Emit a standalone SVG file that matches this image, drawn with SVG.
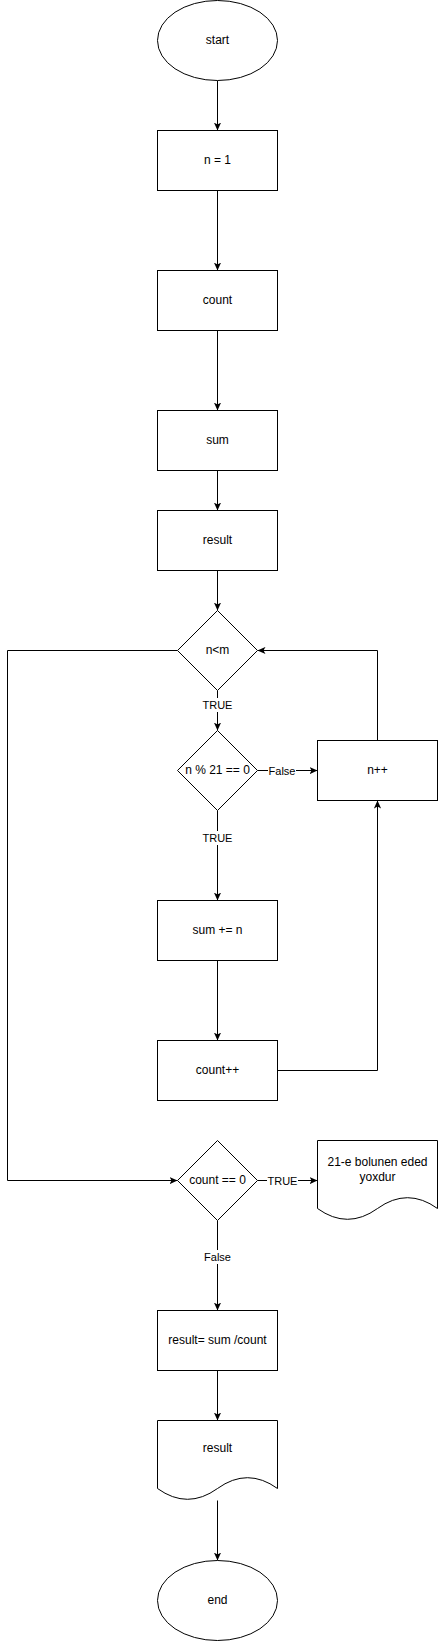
<svg xmlns="http://www.w3.org/2000/svg" width="438" height="1641" viewBox="0 0 438 1641">
<style>
.s{fill:#fff;stroke:#000;stroke-width:1}
.t{font-family:"Liberation Sans",Arial,Helvetica,sans-serif;font-size:12px;fill:#000;text-anchor:middle}
.l{font-family:"Liberation Sans",Arial,Helvetica,sans-serif;font-size:11px;fill:#000;text-anchor:middle}
.c{fill:none;stroke:#000;stroke-width:1;marker-end:url(#a)}
.bg{fill:#fff}
</style>
<defs>
<marker id="a" viewBox="0 0 10 10" refX="10" refY="5" markerWidth="8" markerHeight="8" markerUnits="userSpaceOnUse" orient="auto">
<path d="M0,0.5 L10,5 L0,9.5 L2.5,5 z" fill="#000"/>
</marker>
</defs>
<rect width="438" height="1641" fill="#fff"/>
<g id="connectors">
<path class="c" d="M217.5,80.5 V130.5"/>
<path class="c" d="M217.5,190.5 V270.5"/>
<path class="c" d="M217.5,330.5 V410.5"/>
<path class="c" d="M217.5,470.5 V510.5"/>
<path class="c" d="M217.5,570.5 V610.5"/>
<path class="c" d="M217.5,690.5 V730.5"/>
<path class="c" d="M217.5,810.5 V900.5"/>
<path class="c" d="M217.5,960.5 V1040.5"/>
<path class="c" d="M277.5,1070.5 H377.5 V800.5"/>
<path class="c" d="M377.5,740.5 V650.5 H257.5"/>
<path class="c" d="M257.5,770.5 H317.5"/>
<path class="c" d="M177.5,650.5 H7.5 V1180.5 H177.5"/>
<path class="c" d="M257.5,1180.5 H317.5"/>
<path class="c" d="M217.5,1220.5 V1310.5"/>
<path class="c" d="M217.5,1370.5 V1420.5"/>
<path class="c" d="M217.5,1500.5 V1560.5"/>
<rect class="bg" x="202" y="698" width="31" height="14"/>
<text class="l" x="217.5" y="709">TRUE</text>
<rect class="bg" x="202" y="831" width="31" height="14"/>
<text class="l" x="217.5" y="842">TRUE</text>
<rect class="bg" x="268" y="764" width="28" height="14"/>
<text class="l" x="282" y="774.5">False</text>
<rect class="bg" x="267" y="1174" width="31" height="14"/>
<text class="l" x="282.5" y="1184.5">TRUE</text>
<rect class="bg" x="203" y="1250" width="29" height="14"/>
<text class="l" x="217.5" y="1261">False</text>
</g>
<g id="start"><ellipse class="s" cx="217.5" cy="40.5" rx="60" ry="40"/><text class="t" x="217.5" y="44">start</text></g>
<g id="n1"><rect class="s" x="157.5" y="130.5" width="120" height="60"/><text class="t" x="217.5" y="164">n = 1</text></g>
<g id="count"><rect class="s" x="157.5" y="270.5" width="120" height="60"/><text class="t" x="217.5" y="304">count</text></g>
<g id="sum"><rect class="s" x="157.5" y="410.5" width="120" height="60"/><text class="t" x="217.5" y="444">sum</text></g>
<g id="result"><rect class="s" x="157.5" y="510.5" width="120" height="60"/><text class="t" x="217.5" y="544">result</text></g>
<g id="cond1"><path class="s" d="M217.5,610.5 L257.5,650.5 L217.5,690.5 L177.5,650.5 Z"/><text class="t" x="217.5" y="654">n&lt;m</text></g>
<g id="cond2"><path class="s" d="M217.5,730.5 L257.5,770.5 L217.5,810.5 L177.5,770.5 Z"/><text class="t" x="217.5" y="774">n % 21 == 0</text></g>
<g id="ninc"><rect class="s" x="317.5" y="740.5" width="120" height="60"/><text class="t" x="377.5" y="774">n++</text></g>
<g id="sumadd"><rect class="s" x="157.5" y="900.5" width="120" height="60"/><text class="t" x="217.5" y="934">sum += n</text></g>
<g id="countinc"><rect class="s" x="157.5" y="1040.5" width="120" height="60"/><text class="t" x="217.5" y="1074">count++</text></g>
<g id="cond3"><path class="s" d="M217.5,1140.5 L257.5,1180.5 L217.5,1220.5 L177.5,1180.5 Z"/><text class="t" x="217.5" y="1184">count == 0</text></g>
<g id="msg"><path class="s" d="M317.5,1140.5 H437.5 V1208.5 Q407.5,1186.9 377.5,1208.5 Q347.5,1230.1 317.5,1208.5 Z"/><text class="t" x="377.5" y="1166">21-e bolunen eded</text><text class="t" x="377.5" y="1181">yoxdur</text></g>
<g id="calc"><rect class="s" x="157.5" y="1310.5" width="120" height="60"/><text class="t" x="217.5" y="1344">result= sum /count</text></g>
<g id="out"><path class="s" d="M157.5,1420.5 H277.5 V1488.5 Q247.5,1466.9 217.5,1488.5 Q187.5,1510.1 157.5,1488.5 Z"/><text class="t" x="217.5" y="1452">result</text></g>
<g id="end"><ellipse class="s" cx="217.5" cy="1600.5" rx="60" ry="40"/><text class="t" x="217.5" y="1604">end</text></g>
</svg>
